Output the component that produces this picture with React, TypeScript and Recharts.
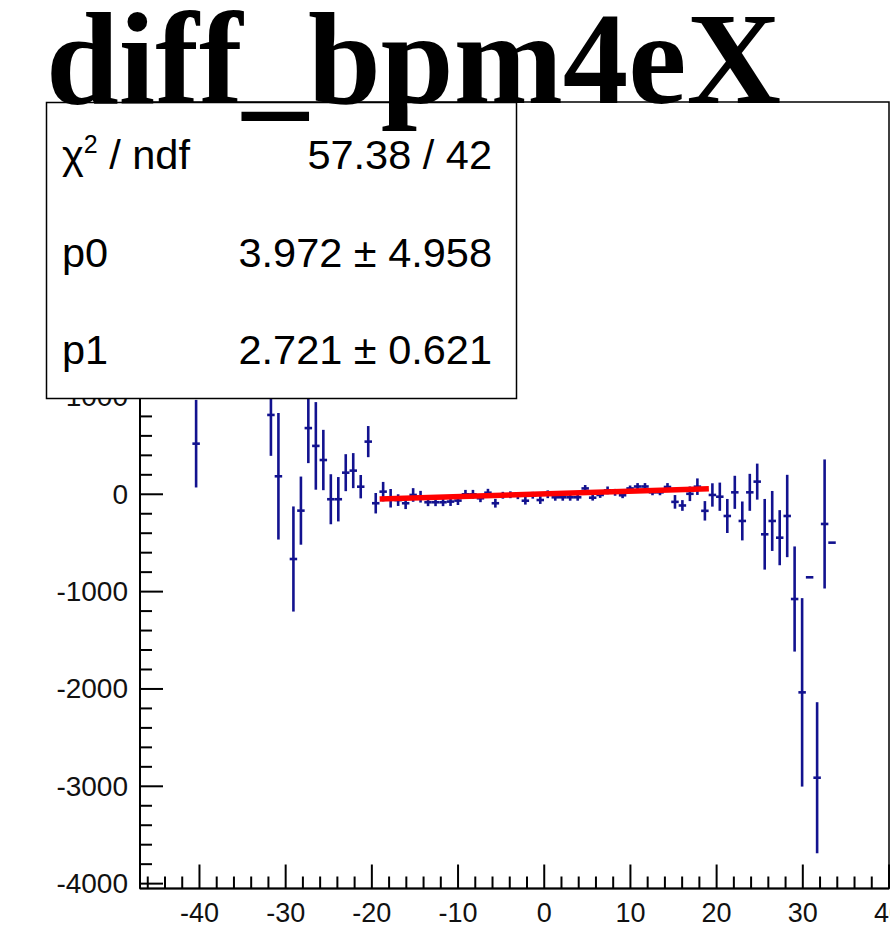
import { ScatterChart, Scatter, XAxis, YAxis, ErrorBar, ReferenceArea } from "recharts";

// bin centres of the filled bins (bin width ~0.868)
const binX = [
  -40.39, -31.71, -30.84, -29.1, -28.23, -27.37, -26.5, -25.63, -24.76, -23.89,
  -23.03, -22.16, -21.29, -20.42, -19.55, -18.69, -17.82, -16.95, -16.08, -15.21,
  -14.35, -13.48, -12.61, -11.74, -10.87, -10.01, -9.14, -8.27, -7.4, -6.53,
  -5.67, -4.8, -3.93, -3.06, -2.19, -1.33, -0.46, 0.41, 1.28, 2.15,
  3.01, 3.88, 4.75, 5.62, 6.49, 7.35, 8.22, 9.09, 9.96, 10.83,
  11.69, 12.56, 13.43, 14.3, 15.17, 16.03, 16.9, 17.77, 18.64, 19.51,
  20.37, 21.24, 22.11, 22.98, 23.85, 24.71, 25.58, 26.45, 27.32, 28.19,
  29.05, 29.92, 30.79, 31.66, 32.53, 33.39,
];
const binY = [
  520, 815, 185, -665, -168, 680, 497, 352, -51, -51,
  222, 243, 78, 541, -92, 27, -41, -60, -92, -7,
  -25, -82, -82, -82, -75, -65, 0, 0, -41, 16,
  -92, -10, -5, -15, -66, -10, -59, 0, -31, -31,
  -31, -31, 60, -35, -7, 40, 20, -10, 60, 80,
  80, 20, 20, 75, -78, -115, 5, 78, -170, -7,
  -25, -223, 20, -274, 20, 130, -411, -274, -446, -223,
  -1076, -2035, -853, -2912, -305, -497,
];
const binErr = [
  450, 420, 650, 540, 350, 360, 450, 310, 257, 228,
  190, 180, 120, 160, 105, 100, 95, 60, 60, 70,
  60, 40, 40, 40, 45, 45, 45, 45, 40, 40,
  45, 35, 35, 35, 40, 35, 40, 40, 35, 35,
  35, 35, 35, 30, 30, 40, 35, 30, 30, 35,
  35, 30, 30, 40, 70, 55, 75, 85, 100, 120,
  145, 175, 170, 200, 190, 185, 363, 308, 283, 423,
  540, 968, 0, 776, 663, 0,
];
const binHalfWidth = 0.434;

// straight-line fit over -19.1..19.1
const fitX = [-19.1, 19.1];
const fitY = [-48, 56];

const xTicks = [
  -46, -44, -42, -40, -38, -36, -34, -32, -30, -28, -26, -24, -22, -20, -18, -16, -14, -12, -10, -8, -6, -4, -2,
  0, 2, 4, 6, 8, 10, 12, 14, 16, 18, 20, 22, 24, 26, 28, 30, 32, 34, 36, 38, 40,
];
const yTicks = [
  -4000, -3800, -3600, -3400, -3200, -3000, -2800, -2600, -2400, -2200, -2000, -1800, -1600, -1400, -1200,
  -1000, -800, -600, -400, -200, 0, 200, 400, 600, 800, 1000, 1200, 1400, 1600, 1800, 2000,
  2200, 2400, 2600, 2800, 3000, 3200, 3400, 3600, 3800, 4000,
];
// labels above 1000 sit under the stats box
const yLabelled = [-4000, -3000, -2000, -1000, 0, 1000];

const statRows = [
  { name: "ndf", value: "57.38 / 42" },
  { name: "p0", value: "3.972 \u00b1 4.958" },
  { name: "p1", value: "2.721 \u00b1 0.621" },
];

const histData = binX.map((x, i) => ({ x, y: binY[i], ey: binErr[i], ex: binHalfWidth }));
const fitData = fitX.map((x, i) => ({ x, y: fitY[i] }));

const BLUE = "#12128f";
const SANS = "'Liberation Sans', Arial, Helvetica, sans-serif";

const XTick = (props: any) => {
  const { x, y, payload } = props;
  const major = payload.value % 10 === 0;
  return (
    <g>
      <line x1={x} x2={x} y1={y} y2={y - (major ? 24 : 12)} stroke="#000" strokeWidth={2} />
      {major && (
        <text x={x} y={y + 24} textAnchor="middle" dominantBaseline="central" fontFamily={SANS} fontSize={27} fill="#111">
          {payload.value}
        </text>
      )}
    </g>
  );
};

const YTick = (props: any) => {
  const { x, y, payload } = props;
  const major = payload.value % 1000 === 0;
  return (
    <g>
      <line x1={x} x2={x + (major ? 23 : 12)} y1={y} y2={y} stroke="#000" strokeWidth={2} />
      {yLabelled.includes(payload.value) && (
        <text x={x - 12} y={y} textAnchor="end" dominantBaseline="central" fontFamily={SANS} fontSize={28} fill="#111">
          {payload.value}
        </text>
      )}
    </g>
  );
};

const noDot = () => <g />;

export default function App() {
  return (
    <div style={{ position: "absolute", left: 0, top: 0, width: 890, height: 937, overflow: "hidden", background: "#fff" }}>
      <ScatterChart width={920} height={937} margin={{ top: 102, right: 31, bottom: 0, left: 0 }}>
        <XAxis
          type="number" dataKey="x" domain={[-46.9, 40]} ticks={xTicks} interval={0} allowDataOverflow
          tickSize={0} tickMargin={0} tick={<XTick />} height={48.5} axisLine={{ stroke: "#000", strokeWidth: 2 }}
        />
        <YAxis
          type="number" dataKey="y" domain={[-4050, 4030]} ticks={yTicks} interval={0} allowDataOverflow
          tickSize={0} tickMargin={0} tick={<YTick />} width={140} axisLine={{ stroke: "#000", strokeWidth: 2 }}
        />
        <ReferenceArea x1={-46.9} x2={40} y1={-4050} y2={4030} fill="none" stroke="#000" strokeWidth={1.5} />
        <Scatter data={histData} shape={noDot} isAnimationActive={false}>
          <ErrorBar dataKey="ey" direction="y" width={0} stroke={BLUE} strokeWidth={2.6} isAnimationActive={false} />
          <ErrorBar dataKey="ex" direction="x" width={0} stroke={BLUE} strokeWidth={2.6} isAnimationActive={false} />
        </Scatter>
        <Scatter data={fitData} shape={noDot} line={{ stroke: "#ff0000", strokeWidth: 5.5 }} isAnimationActive={false} />
      </ScatterChart>
      <svg width={890} height={937} style={{ position: "absolute", left: 0, top: 0, pointerEvents: "none" }}>
        <rect x={46.5} y={102.5} width={470} height={296} fill="#fff" stroke="#000" strokeWidth={1.5} />
        {statRows.map((r, i) => (
          <g key={r.name} fontFamily={SANS} fontSize={41.5} fill="#000">
            <text x={62} y={169 + i * 97.5}>
              {i === 0 ? (
                <>
                  {"\u03c7"}
                  <tspan fontSize={25} dy={-16}>2</tspan>
                  <tspan dy={16}>{" / ndf"}</tspan>
                </>
              ) : r.name}
            </text>
            <text x={492} y={169 + i * 97.5} textAnchor="end">{r.value}</text>
          </g>
        ))}
        <text x={46} y={103} fontFamily="'Liberation Serif', 'Times New Roman', serif" fontWeight="bold" fontSize={131} fill="#000">
          diff_bpm4eX
        </text>
      </svg>
    </div>
  );
}
